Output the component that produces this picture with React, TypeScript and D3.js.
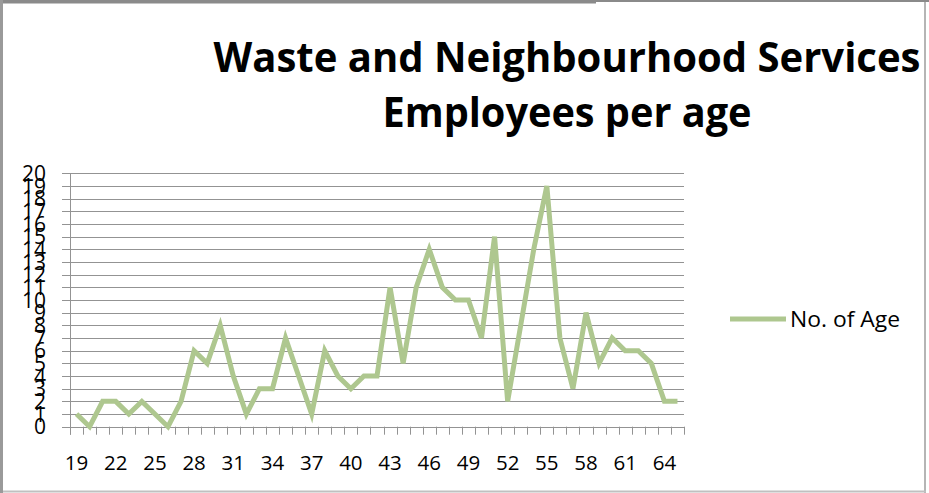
import React from "react";
import * as d3 from "d3";

const ages: number[] = [
  19, 20, 21, 22, 23, 24, 25, 26, 27, 28, 29, 30, 31, 32, 33, 34, 35, 36, 37, 38, 39, 40, 41, 42,
  43, 44, 45, 46, 47, 48, 49, 50, 51, 52, 53, 54, 55, 56, 57, 58, 59, 60, 61, 62, 63, 64, 65,
];
const counts: number[] = [
  1, 0, 2, 2, 1, 2, 1, 0, 2, 6, 5, 8, 4, 1, 3, 3, 7, 4, 1, 6, 4, 3, 4, 4,
  11, 5, 11, 14, 11, 10, 10, 7, 15, 2, 8, 14, 19, 7, 3, 9, 5, 7, 6, 6, 5, 2, 2,
];
const xTickLabels: number[] = [19, 22, 25, 28, 31, 34, 37, 40, 43, 46, 49, 52, 55, 58, 61, 64];
const yTicks: number[] = d3.range(0, 21);
const titleLines: string[] = ["Waste and Neighbourhood Services", "Employees per age"];
const seriesName = "No. of Age";

const W = 929;
const H = 493;
const plot = { left: 70, right: 684, top: 173.3, bottom: 426.7 };
const lineColor = "#AEC78F";
const gridColor = "#939393";
const font = "'Open Sans', sans-serif";

export default function App() {
  const x = d3.scaleBand<number>().domain(ages).range([plot.left, plot.right]).padding(0);
  const y = d3.scaleLinear().domain([0, 20]).range([plot.bottom, plot.top]);
  const cx = (a: number) => (x(a) as number) + x.bandwidth() / 2;
  const line = d3
    .line<number>()
    .x((_, i) => cx(ages[i]))
    .y((d) => y(d));
  const boundaries = d3.range(ages.length + 1).map((i) => plot.left + i * x.step());

  return (
    <svg
      width={W}
      height={H}
      style={{ position: "absolute", left: 0, top: 0, background: "#fff" }}
      xmlns="http://www.w3.org/2000/svg"
    >
      <rect x={0} y={0} width={W} height={H} fill="#fff" />
      {/* frame */}
      <rect x={0} y={0} width={929} height={2} fill="#8a8a8a" />
      <rect x={0} y={0} width={596} height={3.5} fill="#8a8a8a" />
      <rect x={0} y={0} width={3} height={H} fill="#9a9a9a" />
      <rect x={924} y={2} width={2} height={H - 2} fill="#b5b5b5" />
      <rect x={3} y={490.5} width={923} height={2} fill="#c0c0c0" />

      {/* title */}
      <text
        x={567}
        y={72}
        textAnchor="middle"
        fontFamily={font}
        fontWeight={700}
        fontSize={41}
        textLength={707}
        lengthAdjust="spacingAndGlyphs"
        fill="#000"
      >
        {titleLines[0]}
      </text>
      <text
        x={567}
        y={127}
        textAnchor="middle"
        fontFamily={font}
        fontWeight={700}
        fontSize={41}
        textLength={369}
        lengthAdjust="spacingAndGlyphs"
        fill="#000"
      >
        {titleLines[1]}
      </text>

      {/* gridlines + y ticks */}
      {yTicks.map((t) => (
        <line
          key={"g" + t}
          x1={plot.left - 8}
          x2={plot.right}
          y1={Math.round(y(t)) + 0.5}
          y2={Math.round(y(t)) + 0.5}
          stroke={gridColor}
          strokeWidth={1}
        />
      ))}
      {/* y axis */}
      <line
        x1={plot.left + 0.5}
        x2={plot.left + 0.5}
        y1={plot.top}
        y2={plot.bottom + 8}
        stroke={gridColor}
      />
      {/* x ticks */}
      {boundaries.map((b, i) => (
        <line
          key={"xt" + i}
          x1={Math.round(b) + 0.5}
          x2={Math.round(b) + 0.5}
          y1={plot.bottom}
          y2={plot.bottom + 8}
          stroke={gridColor}
        />
      ))}
      {/* y labels */}
      {yTicks.map((t) => (
        <text
          key={"yl" + t}
          x={46}
          y={y(t)}
          dy="0.36em"
          textAnchor="end"
          fontFamily={font}
          fontSize={21}
          fill="#000"
        >
          {t}
        </text>
      ))}
      {/* x labels */}
      {xTickLabels.map((a) => (
        <text
          key={"xl" + a}
          x={cx(a)}
          y={469.5}
          textAnchor="middle"
          fontFamily={font}
          fontSize={20.5}
          fill="#000"
        >
          {a}
        </text>
      ))}

      {/* series */}
      <path
        d={line(counts) || ""}
        fill="none"
        stroke={lineColor}
        strokeWidth={5}
        strokeLinejoin="miter"
        strokeMiterlimit={4}
      />

      {/* legend */}
      <line x1={730} x2={786} y1={319} y2={319} stroke={lineColor} strokeWidth={5} />
      <text x={790} y={326.5} fontFamily={font} fontSize={21} textLength={110} lengthAdjust="spacingAndGlyphs" fill="#000">
        {seriesName}
      </text>
    </svg>
  );
}
